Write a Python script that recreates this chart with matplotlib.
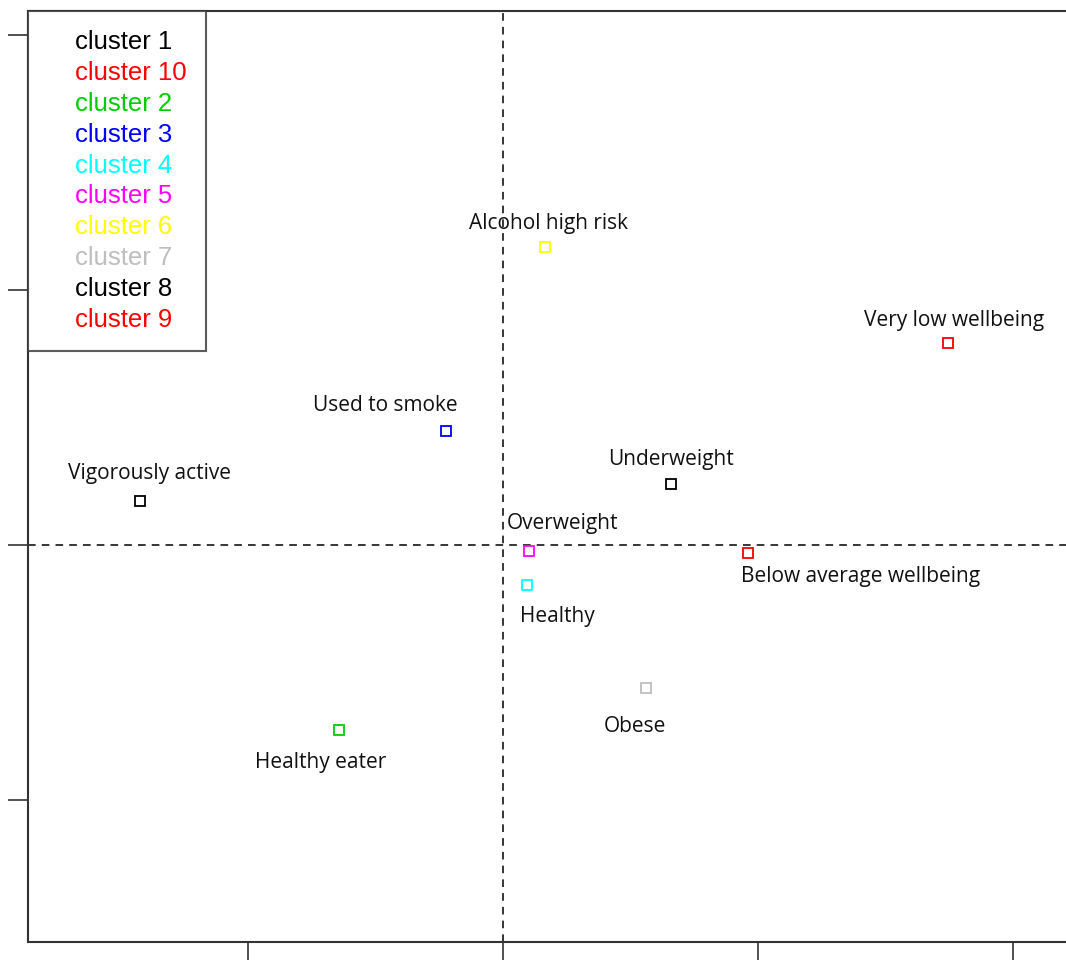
import matplotlib
matplotlib.use("Agg")
import matplotlib.pyplot as plt
from matplotlib.lines import Line2D

# cluster profiles on the first two dimensions
names = ["Vigorously active", "Healthy eater", "Used to smoke", "Healthy", "Overweight",
         "Alcohol high risk", "Obese", "Underweight", "Very low wellbeing", "Below average wellbeing"]
dim1 = [-1.424, -0.643, -0.224, 0.094, 0.102, 0.165, 0.561, 0.659, 1.745, 0.961]
dim2 = [0.173, -0.725, 0.447, -0.157, -0.024, 1.169, -0.561, 0.239, 0.792, -0.031]
colors = ["black", "#00CD00", "blue", "cyan", "magenta", "yellow", "#BEBEBE", "black", "red", "red"]

# where each text label sits
label_x = [-1.388, -0.714, -0.463, 0.212, 0.235, 0.180, 0.518, 0.659, 1.769, 1.404]
label_y = [0.282, -0.855, 0.545, -0.279, 0.086, 1.259, -0.710, 0.337, 0.882, -0.122]

legend_labels = ["cluster 1", "cluster 10", "cluster 2", "cluster 3", "cluster 4",
                 "cluster 5", "cluster 6", "cluster 7", "cluster 8", "cluster 9"]
legend_colors = ["black", "red", "#00CD00", "blue", "cyan",
                 "magenta", "yellow", "#BEBEBE", "black", "red"]

W, H = 1066, 960
fig = plt.figure(figsize=(W / 100, H / 100), dpi=100)
ax = fig.add_axes([28 / W, 18 / H, (1080 - 28) / W, (942 - 11) / H])

ax.axvline(0, color="black", lw=1.1, ls=(0, (5, 4)))
ax.axhline(0, color="black", lw=1.1, ls=(0, (5, 4)))

for x, y, c in zip(dim1, dim2, colors):
    ax.plot(x, y, marker="s", ms=7.5, mfc="none", mec=c, mew=1.3, ls="none")

for t, x, y in zip(names, label_x, label_y):
    ax.text(x, y, t, ha="center", va="center", fontsize=15,
            family="Open Sans", color="#111111")

ax.set_xlim(-1.863, 2.263)
ax.set_ylim(-1.557, 2.094)
ax.set_xticks([-1, 0, 1, 2])
ax.set_yticks([-1, 0, 1, 2])
ax.tick_params(length=14.5, width=1.2, color="#333333", labelbottom=False, labelleft=False)
for s in ["left", "top", "bottom"]:
    ax.spines[s].set_linewidth(1.5)
    ax.spines[s].set_color("#333333")
ax.spines["right"].set_visible(False)

handles = [Line2D([], [], ls="none") for _ in legend_labels]
leg = ax.legend(handles, legend_labels, loc="upper left", borderaxespad=0,
                labelcolor=legend_colors, frameon=True, fancybox=False,
                prop={"family": "Liberation Sans", "size": 18.5},
                handlelength=0.75, handletextpad=0.33, labelspacing=0.265,
                borderpad=0.75)
leg.get_frame().set_edgecolor("#333333")
leg.get_frame().set_linewidth(1.5)

fig.savefig("out.png", dpi=100)
